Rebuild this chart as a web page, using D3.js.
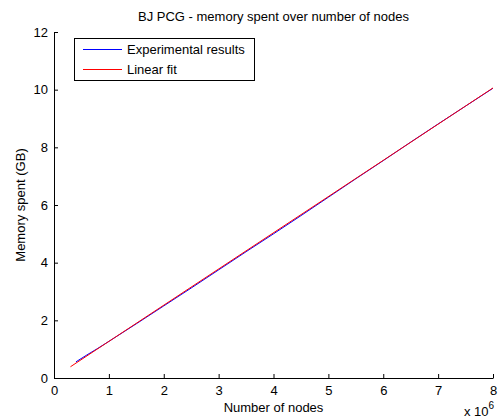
<!DOCTYPE html>
<html>
<head>
<meta charset="utf-8">
<script src="https://cdn.jsdelivr.net/npm/d3@7"></script>
<style>
  body { margin: 0; background: #fff; }
  text { font-family: "Liberation Sans", Arial, sans-serif; fill: #000; }
</style>
</head>
<body>
<div id="chart"></div>
<script>
// nodes in millions, memory in GB
var expNodes = [0.4, 0.6, 0.8, 1, 1.5, 2, 2.5, 3, 3.5, 4, 4.5, 5, 5.5, 6, 6.5, 7, 7.5, 8];
var expMemory = [0.56, 0.8, 1.03, 1.27, 1.88, 2.5, 3.12, 3.75, 4.38, 5.0, 5.63, 6.27, 6.91, 7.54, 8.18, 8.81, 9.43, 10.05];
var fitNodes = [0.3, 8];
var fitMemory = [0.39, 10.06];
var xTicks = [0, 1, 2, 3, 4, 5, 6, 7, 8];
var yTicks = [0, 2, 4, 6, 8, 10, 12];
var legendLabels = ["Experimental results", "Linear fit"];
var seriesColors = ["#0000ff", "#ff0000"];

var W = 499, H = 419;
var margin = {left: 54, right: 493, top: 32, bottom: 378};

var svg = d3.select("#chart").append("svg")
    .attr("width", W)
    .attr("height", H);

var x = d3.scaleLinear().domain([0, 8]).range([margin.left, margin.right]);
var y = d3.scaleLinear().domain([0, 12]).range([margin.bottom, margin.top]);

// axes, ticks inward like matlab
var xAxis = d3.axisBottom(x).tickValues(xTicks).tickSizeInner(-4).tickSizeOuter(0).tickPadding(6);
var yAxis = d3.axisLeft(y).tickValues(yTicks).tickSizeInner(-4).tickSizeOuter(0).tickPadding(6);

var gx = svg.append("g").attr("transform", "translate(0," + margin.bottom + ")").call(xAxis);
var gy = svg.append("g").attr("transform", "translate(" + margin.left + ",0)").call(yAxis);
[gx, gy].forEach(function(g) {
  g.select(".domain").attr("stroke", "#000").attr("stroke-width", 1);
  g.selectAll(".tick line").attr("stroke", "#000");
  g.selectAll(".tick text")
    .style("font-family", "'Liberation Sans', Arial, sans-serif")
    .style("font-size", "13px")
    .attr("fill", "#000");
});
gx.selectAll(".tick text").attr("dy", "0.85em");

// lines
var expData = expNodes.map(function(d, i) { return [d, expMemory[i]]; });
var fitData = fitNodes.map(function(d, i) { return [d, fitMemory[i]]; });
var line = d3.line().x(d => x(d[0])).y(d => y(d[1]));

svg.append("path")
  .attr("fill", "none")
  .attr("stroke", seriesColors[0])
  .attr("stroke-width", 1)
  .attr("d", line(expData));
svg.append("path")
  .attr("fill", "none")
  .attr("stroke", seriesColors[1])
  .attr("stroke-width", 1)
  .attr("d", line(fitData));

// title and labels
svg.append("text")
  .attr("x", (margin.left + margin.right) / 2)
  .attr("y", 21)
  .attr("text-anchor", "middle")
  .style("font-size", "13px")
  .text("BJ PCG - memory spent over number of nodes");

svg.append("text")
  .attr("x", (margin.left + margin.right) / 2)
  .attr("y", 412)
  .attr("text-anchor", "middle")
  .style("font-size", "13px")
  .text("Number of nodes");

svg.append("text")
  .attr("transform", "translate(25," + (margin.top + margin.bottom) / 2 + ") rotate(-90)")
  .attr("text-anchor", "middle")
  .style("font-size", "13px")
  .text("Memory spent (GB)");

var mult = svg.append("text")
  .attr("x", 464)
  .attr("y", 416)
  .style("font-size", "13px");
mult.append("tspan").text("x 10");
mult.append("tspan").attr("dy", -7).style("font-size", "10px").text("6");

// legend
var legend = svg.append("g");
legend.append("rect")
  .attr("x", 74.5).attr("y", 38.5)
  .attr("width", 180).attr("height", 42)
  .attr("fill", "#fff")
  .attr("stroke", "#000");
legendLabels.forEach(function(lbl, i) {
  var ly = 49 + i * 20;
  legend.append("line")
    .attr("x1", 83).attr("x2", 122)
    .attr("y1", ly + 0.5).attr("y2", ly + 0.5)
    .attr("stroke", seriesColors[i])
    .attr("stroke-width", 1);
  legend.append("text")
    .attr("x", 127)
    .attr("y", ly + 5)
    .style("font-size", "13px")
    .text(lbl);
});
</script>
</body>
</html>
